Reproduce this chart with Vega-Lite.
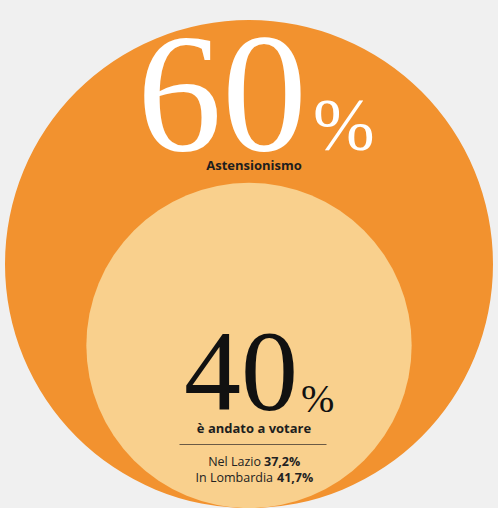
{
  "$schema": "https://vega.github.io/schema/vega-lite/v6.json",
  "width": 498,
  "height": 508,
  "autosize": {"type": "none"},
  "padding": 0,
  "background": "#F0F0F0",
  "view": {"stroke": null},
  "datasets": {
    "cerchi": [
      {"gruppo": "Astensionismo", "valore": 60, "etichetta": "60", "descrizione": "Astensionismo"},
      {"gruppo": "Votanti", "valore": 40, "etichetta": "40", "descrizione": "è andato a votare"}
    ],
    "regioni": [
      {"gruppo": "Votanti", "regione": "Nel Lazio", "affluenza": "37,2%"},
      {"gruppo": "Votanti", "regione": "In Lombardia", "affluenza": "41,7%"}
    ]
  },
  "data": {"name": "cerchi"},
  "encoding": {
    "x": {"datum": 0, "type": "quantitative", "scale": {"domain": [-1, 1]}, "axis": null},
    "y": {"field": "valore", "type": "quantitative", "scale": {"domain": [0, 125], "nice": false, "zero": true}, "axis": null}
  },
  "layer": [
    {
      "mark": {"type": "point", "shape": "circle", "filled": true, "opacity": 1, "strokeWidth": 0},
      "encoding": {
        "size": {"field": "valore", "type": "quantitative", "scale": {"type": "pow", "exponent": 2, "domain": [0, 60], "range": [0, 238144]}, "legend": null},
        "color": {"field": "gruppo", "type": "nominal", "scale": {"domain": ["Astensionismo", "Votanti"], "range": ["#F2922F", "#F9D08D"]}, "legend": null}
      }
    },
    {
      "transform": [{"filter": "datum.gruppo === 'Astensionismo'"}],
      "layer": [
        {
          "mark": {"type": "text", "font": "Liberation Serif", "fontSize": 170, "color": "#FFFFFF", "align": "right", "baseline": "alphabetic", "dx": 58, "dy": -114},
          "encoding": {"text": {"field": "etichetta"}}
        },
        {
          "mark": {"type": "text", "font": "Liberation Serif", "fontSize": 74, "color": "#FFFFFF", "align": "left", "baseline": "alphabetic", "dx": 64, "dy": -114, "text": "%"}
        },
        {
          "mark": {"type": "text", "font": "Open Sans", "fontWeight": "bold", "fontSize": 13, "color": "#1E1E1E", "align": "center", "baseline": "middle", "dx": 5, "dy": -98},
          "encoding": {"text": {"field": "descrizione"}}
        }
      ]
    },
    {
      "transform": [{"filter": "datum.gruppo === 'Votanti'"}],
      "layer": [
        {
          "mark": {"type": "text", "font": "Liberation Serif", "fontSize": 114, "color": "#111111", "align": "right", "baseline": "alphabetic", "dx": 49, "dy": 65},
          "encoding": {"text": {"field": "etichetta"}}
        },
        {
          "mark": {"type": "text", "font": "Liberation Serif", "fontSize": 40, "color": "#111111", "align": "left", "baseline": "alphabetic", "dx": 52, "dy": 67, "text": "%"}
        },
        {
          "mark": {"type": "text", "font": "Open Sans", "fontWeight": "bold", "fontSize": 13, "color": "#1E1E1E", "align": "center", "baseline": "middle", "dx": 5, "dy": 84},
          "encoding": {"text": {"field": "descrizione"}}
        },
        {
          "mark": {"type": "tick", "orient": "horizontal", "size": 147, "thickness": 1, "color": "#6B5A45", "opacity": 1, "xOffset": 4, "yOffset": 99}
        }
      ]
    },
    {
      "data": {"name": "regioni"},
      "transform": [
        {"lookup": "gruppo", "from": {"data": {"name": "cerchi"}, "key": "gruppo", "fields": ["valore"]}}
      ],
      "layer": [
        {
          "transform": [{"filter": "datum.regione === 'Nel Lazio'"}],
          "layer": [
            {
              "mark": {"type": "text", "font": "Open Sans", "fontSize": 12.5, "color": "#222222", "align": "right", "baseline": "middle", "dx": 12, "dy": 117},
              "encoding": {"text": {"field": "regione"}}
            },
            {
              "mark": {"type": "text", "font": "Open Sans", "fontWeight": "bold", "fontSize": 12.5, "color": "#222222", "align": "left", "baseline": "middle", "dx": 15, "dy": 117},
              "encoding": {"text": {"field": "affluenza"}}
            }
          ]
        },
        {
          "transform": [{"filter": "datum.regione === 'In Lombardia'"}],
          "layer": [
            {
              "mark": {"type": "text", "font": "Open Sans", "fontSize": 12.5, "color": "#222222", "align": "right", "baseline": "middle", "dx": 24, "dy": 133},
              "encoding": {"text": {"field": "regione"}}
            },
            {
              "mark": {"type": "text", "font": "Open Sans", "fontWeight": "bold", "fontSize": 12.5, "color": "#222222", "align": "left", "baseline": "middle", "dx": 28, "dy": 133},
              "encoding": {"text": {"field": "affluenza"}}
            }
          ]
        }
      ]
    }
  ]
}
